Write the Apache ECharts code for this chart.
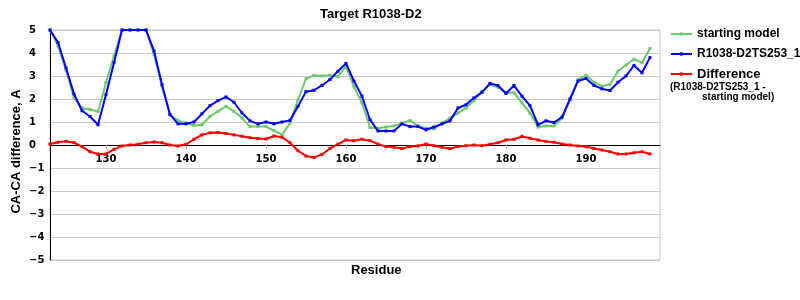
<!DOCTYPE html>
<html>
<head>
<meta charset="utf-8">
<script src="https://cdn.jsdelivr.net/npm/echarts@6/dist/echarts.min.js"></script>
<style>html,body{margin:0;padding:0;background:#fff;}#chart{width:800px;height:300px;}</style>
</head>
<body>
<div id="chart"></div>
<script>
const residues = [];
for (let r = 123; r <= 198; r++) residues.push(r);

const startingModel = [
  5.0, 4.31, 3.25, 2.05, 1.61, 1.54, 1.46, 2.71, 3.87, 5.0,
  5.0, 5.0, 5.0, 3.95, 2.53, 1.32, 1.07, 0.95, 0.85, 0.88,
  1.24, 1.46, 1.68, 1.46, 1.17, 0.80, 0.80, 0.80, 0.63, 0.44,
  0.95, 1.97, 2.88, 3.03, 3.00, 3.03, 2.97, 3.43, 2.53, 1.83,
  0.76, 0.73, 0.78, 0.83, 0.95, 1.07, 0.83, 0.73, 0.70, 0.95,
  1.17, 1.39, 1.61, 1.93, 2.34, 2.63, 2.51, 2.27, 2.27, 1.83,
  1.39, 0.78, 0.83, 0.83, 1.17, 1.97, 2.85, 3.03, 2.73, 2.56,
  2.63, 3.21, 3.48, 3.73, 3.58, 4.20
];

const model253 = [
  5.0, 4.46, 3.36, 2.22, 1.49, 1.24, 0.88, 2.19, 3.58, 5.0,
  5.0, 5.0, 5.0, 4.09, 2.63, 1.32, 0.92, 0.92, 1.00, 1.36,
  1.71, 1.93, 2.09, 1.86, 1.39, 1.05, 0.92, 1.00, 0.92, 1.00,
  1.07, 1.68, 2.32, 2.38, 2.59, 2.85, 3.21, 3.55, 2.78, 2.12,
  1.10, 0.61, 0.61, 0.61, 0.92, 0.80, 0.80, 0.66, 0.78, 0.92,
  1.05, 1.61, 1.75, 2.05, 2.29, 2.68, 2.59, 2.24, 2.59, 2.12,
  1.71, 0.88, 1.05, 0.98, 1.21, 2.00, 2.78, 2.89, 2.59, 2.44,
  2.37, 2.73, 3.00, 3.46, 3.14, 3.80
];

const difference = [
  0.04, 0.12, 0.16, 0.10, -0.07, -0.29, -0.39, -0.39, -0.19, -0.04,
  0.00, 0.03, 0.10, 0.13, 0.10, 0.00, -0.04, 0.03, 0.25, 0.44,
  0.53, 0.54, 0.50, 0.44, 0.38, 0.32, 0.28, 0.26, 0.39, 0.34,
  0.10, -0.25, -0.48, -0.54, -0.41, -0.15, 0.04, 0.22, 0.19, 0.25,
  0.19, 0.04, -0.07, -0.10, -0.15, -0.07, -0.04, 0.04, -0.03, -0.10,
  -0.16, -0.07, -0.03, 0.00, -0.03, 0.03, 0.10, 0.22, 0.25, 0.37,
  0.29, 0.22, 0.15, 0.12, 0.04, 0.00, -0.04, -0.07, -0.15, -0.22,
  -0.29, -0.39, -0.39, -0.34, -0.29, -0.39
];

const xTicks = [130, 140, 150, 160, 170, 180, 190];
const seriesNames = ['starting model', 'R1038-D2TS253_1', 'Difference'];
const titleText = 'Target R1038-D2';
const yAxisName = 'CA-CA difference, A';
const xAxisName = 'Residue';
const diffNote1 = '(R1038-D2TS253_1 -';
const diffNote2 = 'starting model)';

function pairs(vals) { return residues.map((r, i) => [r, vals[i]]); }

const chart = echarts.init(document.getElementById('chart'), null, {renderer: 'canvas'});
const labelFont = {fontFamily: 'DejaVu Sans', fontWeight: 'bold', fontSize: 10, color: '#000'};
const sansBold = 'Liberation Sans';

chart.setOption({
  animation: false,
  backgroundColor: '#fff',
  grid: {left: 50, right: 140, top: 30, bottom: 40, show: true, borderColor: '#c8c8c8', borderWidth: 1, backgroundColor: 'transparent'},
  xAxis: {
    type: 'value', min: 123, max: 199.25, position: 'bottom', offset: -115,
    axisLine: {onZero: false, lineStyle: {color: '#000', width: 1}},
    axisTick: {show: true, customValues: xTicks, length: 4, lineStyle: {color: '#b0b0b0'}},
    axisLabel: Object.assign({customValues: xTicks, margin: 9}, labelFont),
    splitLine: {show: false}
  },
  yAxis: {
    type: 'value', min: -5, max: 5, interval: 1,
    axisLine: {show: true, onZero: false, lineStyle: {color: '#000', width: 1}},
    axisTick: {show: false},
    axisLabel: Object.assign({align: 'left', margin: 21, formatter: v => (v < 0 ? '\u2212' + (-v) : '' + v)}, labelFont),
    splitLine: {show: true, lineStyle: {color: '#c8c8c8', width: 1}}
  },
  legend: {
    orient: 'vertical', left: 670, top: 27, padding: 0,
    itemWidth: 21, itemHeight: 4, itemGap: 6,
    data: seriesNames,
    textStyle: {
      fontFamily: sansBold, fontWeight: 'bold', fontSize: 12, color: '#000', lineHeight: 14,
      rich: {d: {fontFamily: sansBold, fontWeight: 'bold', fontSize: 13, color: '#000', lineHeight: 14}}
    },
    formatter: function (n) { return n === 'Difference' ? '{d|' + n + '}' : n; }
  },
  graphic: [
    {type: 'text', left: 320, top: 8, style: {text: titleText, font: 'bold 13px "Liberation Sans"', fill: '#000'}},
    {type: 'text', left: 351, top: 264, style: {text: xAxisName, font: 'bold 13px "Liberation Sans"', fill: '#000'}},
    {type: 'text', x: 16.5, y: 151.5, rotation: Math.PI / 2,
     style: {text: yAxisName, font: 'bold 13px "Liberation Sans"', fill: '#000', align: 'center', verticalAlign: 'middle'}},
    {type: 'text', left: 670, top: 82, style: {text: diffNote1, font: 'bold 10px "Liberation Sans"', fill: '#000'}},
    {type: 'text', left: 702, top: 92, style: {text: diffNote2, font: 'bold 10px "Liberation Sans"', fill: '#000'}}
  ],
  series: [
    {name: seriesNames[0], type: 'line', data: pairs(startingModel), symbol: 'rect', symbolSize: 3,
     lineStyle: {color: '#6cc86c', width: 2}, itemStyle: {color: '#6cc86c'}, z: 2},
    {name: seriesNames[1], type: 'line', data: pairs(model253), symbol: 'rect', symbolSize: 3,
     lineStyle: {color: '#0000ff', width: 2}, itemStyle: {color: '#0000ff'}, z: 3},
    {name: seriesNames[2], type: 'line', data: pairs(difference), symbol: 'rect', symbolSize: 3,
     lineStyle: {color: '#ff0000', width: 2}, itemStyle: {color: '#ff0000'}, z: 4}
  ]
});
</script>
</body>
</html>
